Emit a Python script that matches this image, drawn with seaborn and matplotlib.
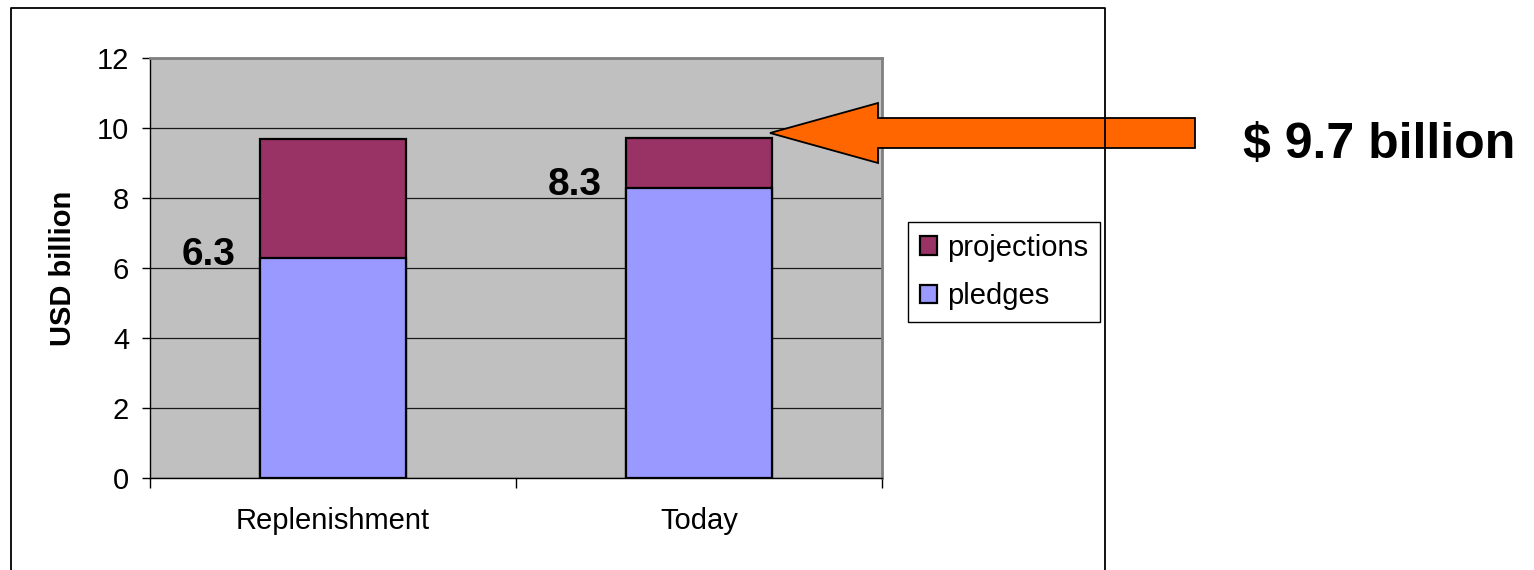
import numpy as np
import pandas as pd
import seaborn as sns
import matplotlib.pyplot as plt
from matplotlib.patches import Polygon

categories = ["Replenishment", "Today"]
pledges = [6.3, 8.3]
projections = [3.4, 1.4]
value_labels = ["6.3", "8.3"]
total_text = "$ 9.7 billion"

df = pd.DataFrame({"category": categories, "pledges": pledges, "projections": projections})
df["total"] = df["pledges"] + df["projections"]

sns.set_style("white")
plt.rcParams["font.family"] = ["Liberation Sans", "DejaVu Sans"]
plt.rcParams["text.color"] = "black"
plt.rcParams["xtick.color"] = "black"
plt.rcParams["ytick.color"] = "black"
plt.rcParams["axes.labelcolor"] = "black"

fig = plt.figure(figsize=(15.34, 5.70), dpi=100)
ax = fig.add_axes([150 / 1534, 1 - 478 / 570, 732 / 1534, 420 / 570])
ax.set_facecolor("#C0C0C0")

# stacked bars: total first, pledges on top of it
sns.barplot(data=df, x="category", y="total", color="#993366", width=0.4,
            edgecolor="black", linewidth=1.6, saturation=1, ax=ax)
sns.barplot(data=df, x="category", y="pledges", color="#9999FF", width=0.4,
            edgecolor="black", linewidth=1.6, saturation=1, ax=ax)

ax.set_ylim(0, 12)
ax.set_xlim(-0.5, 1.5)
ax.set_yticks(np.arange(0, 13, 2))
ax.tick_params(axis="y", labelsize=21, length=6, width=1, pad=9, direction="out", left=True)
ax.set_xticks([-0.5, 0.5, 1.5])
ax.set_xticklabels([])
ax.set_xticks([0, 1], minor=True)
ax.set_xticklabels(categories, minor=True)
ax.tick_params(axis="x", which="major", length=7, width=1, direction="out", bottom=True)
ax.tick_params(axis="x", which="minor", length=0, labelsize=21, pad=21)

ax.grid(axis="y", color="#1a1a1a", linewidth=0.9)
ax.set_axisbelow(True)
for s in ["top", "right"]:
    ax.spines[s].set_color("#808080")
    ax.spines[s].set_linewidth(2)
for s in ["left", "bottom"]:
    ax.spines[s].set_color("black")
    ax.spines[s].set_linewidth(1)

ax.set_xlabel("")
ax.set_ylabel("USD billion", fontsize=21, fontweight="bold")
ax.yaxis.set_label_coords(-0.1, 0.5)

for i, (v, t) in enumerate(zip(pledges, value_labels)):
    ax.text(i - 0.34, v + 0.07, t, fontsize=28, fontweight="bold", ha="center", va="center")

handles = [ax.containers[0].patches[0], ax.containers[1].patches[0]]
leg = ax.legend(handles, ["projections", "pledges"], loc="upper left",
                bbox_to_anchor=((908 - 150) / 732, (478 - 222) / 420),
                fontsize=21, frameon=True, fancybox=False, framealpha=1,
                edgecolor="black", handlelength=0.6, handleheight=0.6,
                handletextpad=0.35, labelspacing=0.7, borderpad=0.4,
                borderaxespad=0)
leg.get_frame().set_linewidth(1)

# outer chart frame
W, H = 1534, 570
def fx(px):
    return px / W
def fy(py):
    return 1 - py / H
fig.add_artist(plt.Line2D([fx(11), fx(11), fx(1105), fx(1105)],
                          [fy(575), fy(8), fy(8), fy(575)],
                          transform=fig.transFigure, color="black", linewidth=1.3))

# orange arrow pointing at the bar total
arrow_px = [(770, 133), (878, 103), (878, 118), (1195, 118),
            (1195, 148), (878, 148), (878, 163)]
fig.add_artist(Polygon([(fx(x), fy(y)) for x, y in arrow_px], closed=True,
                       transform=fig.transFigure, facecolor="#FF6600",
                       edgecolor="black", linewidth=1.3))

fig.text(fx(1379), fy(145), total_text, fontsize=36, fontweight="bold",
         ha="center", va="center")

fig.savefig("out.png", dpi=100)
